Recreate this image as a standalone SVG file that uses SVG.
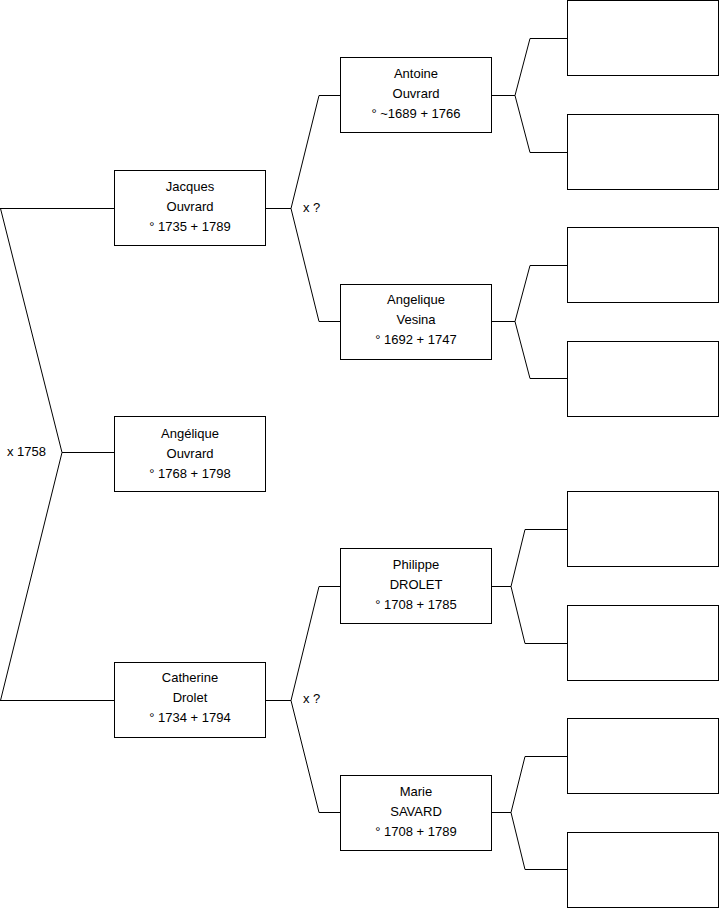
<svg xmlns="http://www.w3.org/2000/svg" width="719" height="908" viewBox="0 0 719 908">
<style>
.box{fill:#fff;stroke:#000;stroke-width:1}
.c{fill:none;stroke:#000;stroke-width:1}
text{font-family:"Liberation Sans",Arial,sans-serif;font-size:13px;fill:#000}
.n{text-anchor:middle}
</style>
<rect width="719" height="908" fill="#fff"/>
<g id="connectors">
<path class="c" d="M0,208.5 H114.5 M0.5,208.5 L62,452.5 L0.5,700.5 M62,452.5 H114.5 M0,700.5 H114.5"/>
<path class="c" d="M265,208.5 H291 L319,95.5 H340.5 M291,208.5 L319,321.5 H340.5"/>
<path class="c" d="M265,700.5 H291 L319,586.5 H340.5 M291,700.5 L319,812.5 H340.5"/>
<path class="c" d="M491,95.5 H515 L530,38.5 H567.5 M515,95.5 L530,152.5 H567.5"/>
<path class="c" d="M491,321.5 H515 L530,265.5 H567.5 M515,321.5 L530,378.5 H567.5"/>
<path class="c" d="M491,586.5 H511 L525,529.5 H567.5 M511,586.5 L525,643.5 H567.5"/>
<path class="c" d="M491,812.5 H511 L525,756.5 H567.5 M511,812.5 L525,869.5 H567.5"/>
<text x="7" y="456">x 1758</text>
<text x="303" y="211.5">x ?</text>
<text x="303" y="702.5">x ?</text>
</g>
<g id="jacques">
<rect class="box" x="114.5" y="170.5" width="151" height="75"/>
<text class="n" x="190" y="191">Jacques</text>
<text class="n" x="190" y="211">Ouvrard</text>
<text class="n" x="190" y="231">° 1735 + 1789</text>
</g>
<g id="angelique-ouvrard">
<rect class="box" x="114.5" y="416.5" width="151" height="75"/>
<text class="n" x="190" y="437.5">Angélique</text>
<text class="n" x="190" y="457.5">Ouvrard</text>
<text class="n" x="190" y="477.5">° 1768 + 1798</text>
</g>
<g id="catherine">
<rect class="box" x="114.5" y="662.5" width="151" height="75"/>
<text class="n" x="190" y="681.5">Catherine</text>
<text class="n" x="190" y="701.5">Drolet</text>
<text class="n" x="190" y="721.5">° 1734 + 1794</text>
</g>
<g id="antoine">
<rect class="box" x="340.5" y="57.5" width="151" height="75"/>
<text class="n" x="416" y="78">Antoine</text>
<text class="n" x="416" y="98">Ouvrard</text>
<text class="n" x="416" y="118">° ~1689 + 1766</text>
</g>
<g id="angelique-vesina">
<rect class="box" x="340.5" y="284.5" width="151" height="75"/>
<text class="n" x="416" y="303.5">Angelique</text>
<text class="n" x="416" y="323.5">Vesina</text>
<text class="n" x="416" y="343.5">° 1692 + 1747</text>
</g>
<g id="philippe">
<rect class="box" x="340.5" y="548.5" width="151" height="75"/>
<text class="n" x="416" y="569">Philippe</text>
<text class="n" x="416" y="589">DROLET</text>
<text class="n" x="416" y="609">° 1708 + 1785</text>
</g>
<g id="marie">
<rect class="box" x="340.5" y="775.5" width="151" height="75"/>
<text class="n" x="416" y="796">Marie</text>
<text class="n" x="416" y="816">SAVARD</text>
<text class="n" x="416" y="836">° 1708 + 1789</text>
</g>
<g id="r1"><rect class="box" x="567.5" y="0.5" width="151" height="75"/></g>
<g id="r2"><rect class="box" x="567.5" y="114.5" width="151" height="75"/></g>
<g id="r3"><rect class="box" x="567.5" y="227.5" width="151" height="75"/></g>
<g id="r4"><rect class="box" x="567.5" y="341.5" width="151" height="75"/></g>
<g id="r5"><rect class="box" x="567.5" y="491.5" width="151" height="75"/></g>
<g id="r6"><rect class="box" x="567.5" y="605.5" width="151" height="75"/></g>
<g id="r7"><rect class="box" x="567.5" y="718.5" width="151" height="75"/></g>
<g id="r8"><rect class="box" x="567.5" y="832.5" width="151" height="75"/></g>
</svg>
